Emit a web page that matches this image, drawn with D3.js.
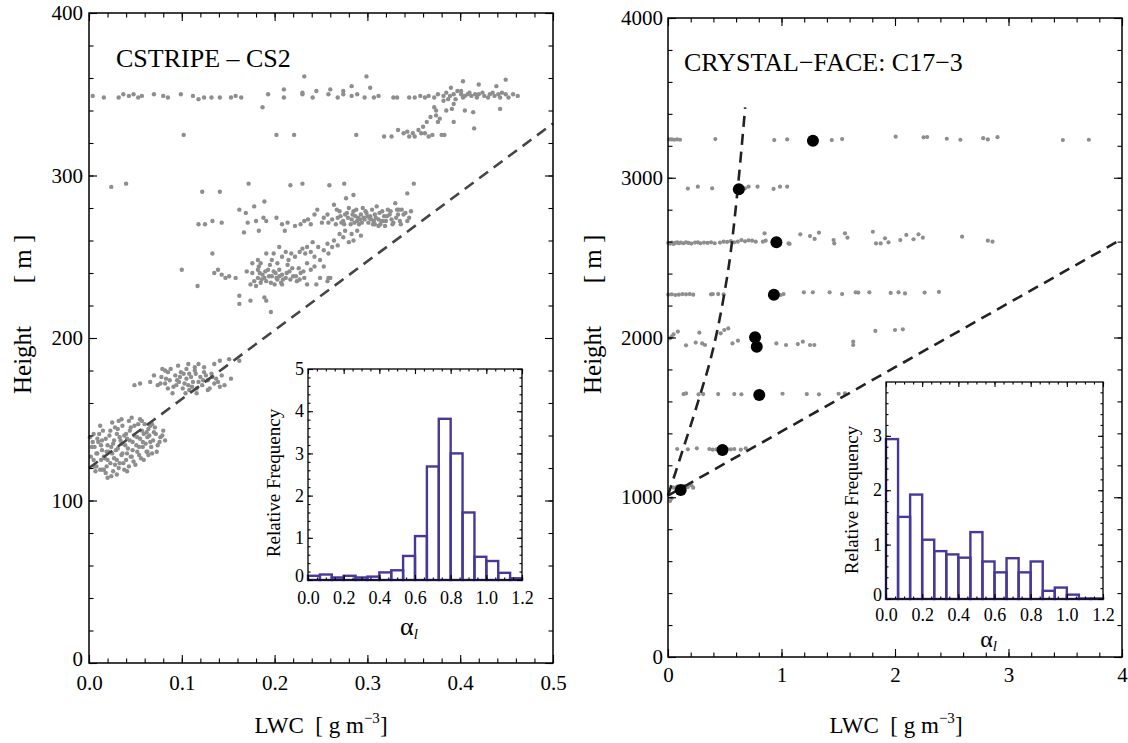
<!DOCTYPE html>
<html>
<head>
<meta charset="utf-8">
<script src="https://cdn.jsdelivr.net/npm/d3@7"></script>
<style>
  body { margin: 0; background: #fff; }
  svg text { font-family: "Liberation Serif", "Times New Roman", "DejaVu Serif", serif !important; }
</style>
</head>
<body>
<svg id="chart" width="1128" height="743"></svg>
<script>
// ---- CSTRIPE CS2 : [LWC g/m3, height m] ----
const cs2Top = [
  [0.004,349],[0.016,348],[0.032,348],[0.037,350],[0.043,349],[0.048,350],[0.053,348],[0.057,349],[0.070,350],[0.080,349],
  [0.085,348],[0.099,350],[0.112,349],[0.118,347],[0.124,348],[0.132,348],[0.141,348],[0.153,348],[0.158,349],[0.164,348],
  [0.193,350],[0.210,348],[0.230,350],[0.241,348],[0.258,350],[0.268,348],[0.274,350],[0.283,349],[0.289,350],[0.297,348],
  [0.307,348],[0.312,349],[0.328,348],[0.332,348],[0.345,348],[0.351,348],[0.357,349],[0.362,348],[0.366,349],[0.372,348],
  [0.376,350],[0.382,349],[0.385,351],[0.389,349],[0.393,350],[0.397,352],[0.401,350],[0.405,349],[0.408,350],[0.412,349],
  [0.416,350],[0.420,350],[0.426,349],[0.432,350],[0.437,349],[0.441,350],[0.445,351],[0.449,350],[0.462,349],
  [0.232,361],[0.299,361],[0.283,355],[0.303,354],[0.274,352],[0.230,351],[0.403,358],[0.420,356],[0.439,355],[0.449,359],
  [0.401,352],[0.260,353],[0.245,352],[0.210,353],[0.390,354],
  [0.395,347],[0.403,348],[0.410,351],[0.418,348],[0.424,351],[0.430,348],[0.435,351],[0.443,348],[0.452,348],[0.457,350]
];
const cs2Branch = [
  [0.333,328],[0.339,326],[0.345,324],[0.349,326],[0.355,328],[0.360,330],[0.364,333],[0.358,326],[0.372,342],[0.374,337],
  [0.374,340],[0.380,325],[0.383,325],[0.376,333],[0.391,341],[0.393,344],[0.405,340],[0.414,339],[0.393,333],[0.415,329],
  [0.443,341],[0.318,324],[0.326,324],[0.366,324],[0.370,325],[0.343,327],[0.351,324],[0.362,326],[0.368,336],[0.382,346],
  [0.387,347],[0.378,335],[0.385,340],
  [0.102,325],[0.202,325],[0.221,325],[0.288,325],[0.187,342],
  [0.024,293],[0.040,295],[0.122,290],[0.141,290],[0.172,295],[0.217,294],[0.230,295],[0.259,294],[0.275,295],[0.350,295],
  [0.343,289],[0.285,288],[0.277,286],[0.189,284],[0.178,281]
];
const cs2Upper = [
  [0.162,279],[0.169,277],[0.171,271],[0.118,270],[0.125,270],[0.133,272],[0.143,271],[0.180,272],[0.183,266],[0.188,274],
  [0.191,272],[0.202,274],[0.208,270],[0.214,271],[0.211,266],[0.222,269],[0.228,270],[0.232,272],[0.236,273],[0.239,270],
  [0.243,276],[0.246,279],[0.251,271],[0.253,274],[0.257,276],[0.258,271],[0.264,282],[0.268,274],[0.270,278],[0.274,272],
  [0.276,276],[0.280,280],[0.283,273],[0.285,278],[0.287,275],[0.289,272],[0.293,276],[0.295,280],[0.297,273],[0.299,277],
  [0.301,271],[0.303,275],[0.305,279],[0.307,272],[0.308,276],[0.310,281],[0.312,273],[0.314,270],[0.316,278],[0.318,275],
  [0.320,272],[0.322,279],[0.324,276],[0.326,273],[0.330,283],[0.332,279],[0.333,276],[0.335,272],[0.337,279],[0.339,276],
  [0.343,272],[0.328,271],[0.308,270],[0.291,270],[0.272,271],[0.266,270],[0.312,269],[0.296,274],[0.304,273],[0.286,271],
  [0.279,274],[0.317,272],[0.292,273],[0.300,275],[0.262,273],
  [0.271,275],[0.275,270],[0.278,277],[0.282,270],[0.284,276],[0.288,279],[0.290,274],[0.294,271],[0.298,278],[0.302,274],
  [0.306,270],[0.309,274],[0.313,277],[0.315,272],[0.319,269],[0.321,275],[0.325,278],[0.327,270],[0.331,274],[0.334,279],
  [0.336,270],[0.341,277],[0.345,274],[0.347,278],[0.267,279]
];
const cs2Middle = [
  [0.133,252],[0.139,242],[0.135,240],[0.117,232],[0.147,237],[0.158,237],[0.162,221],[0.162,226],[0.174,223],[0.189,225],
  [0.191,223],[0.196,216],[0.170,241],[0.176,240],[0.182,242],[0.182,248],[0.182,237],[0.187,239],[0.189,237],[0.178,235],
  [0.174,233],[0.180,232],[0.185,234],[0.191,235],[0.197,238],[0.201,240],[0.203,236],[0.207,234],[0.208,239],[0.212,237],
  [0.216,241],[0.220,238],[0.224,235],[0.228,240],[0.232,237],[0.226,243],[0.215,248],[0.218,252],[0.222,250],[0.227,253],
  [0.230,255],[0.233,252],[0.235,256],[0.239,253],[0.241,259],[0.243,250],[0.247,256],[0.249,248],[0.253,254],[0.257,258],
  [0.258,252],[0.262,256],[0.264,260],[0.268,257],[0.270,264],[0.274,262],[0.276,266],[0.280,259],[0.283,264],[0.285,260],
  [0.289,266],[0.293,263],[0.235,246],[0.239,242],[0.243,244],[0.249,237],[0.253,244],[0.257,235],[0.260,237],[0.245,233],
  [0.203,246],[0.199,252],[0.208,250],[0.212,253],[0.205,256],[0.197,248],[0.193,242],[0.185,246],[0.191,252],[0.208,233],
  [0.235,233],[0.258,237],[0.176,246],[0.100,242],[0.143,239],[0.151,238],[0.167,265],
  [0.184,240],[0.186,236],[0.190,241],[0.194,238],[0.196,234],[0.199,241],[0.202,237],[0.205,242],[0.209,236],[0.213,240],
  [0.217,236],[0.219,243],[0.223,238],[0.227,236],[0.231,241],[0.205,238],[0.195,245],[0.214,245],[0.183,244],[0.200,233]
];
const cs2Lower = [
  [0.049,171],[0.055,172],[0.066,173],[0.070,177],[0.074,171],[0.078,176],[0.082,172],[0.085,179],[0.087,174],[0.091,170],
  [0.093,177],[0.097,173],[0.099,179],[0.101,169],[0.105,175],[0.107,171],[0.108,178],[0.112,173],[0.114,180],[0.116,169],
  [0.120,176],[0.122,171],[0.124,179],[0.128,174],[0.130,169],[0.132,178],[0.135,172],[0.137,175],[0.141,170],[0.143,177],
  [0.153,175],[0.128,168],[0.095,174],[0.103,172],[0.110,176],[0.118,173],[0.102,178],[0.115,178],[0.108,168],[0.085,169],
  [0.082,180],[0.107,184],[0.114,182],[0.124,182],[0.135,184],[0.141,186],[0.151,187],[0.162,186],
  [0.079,181],[0.088,181],[0.096,183],[0.105,181],[0.118,184],[0.126,177],[0.133,176],[0.139,173],[0.146,171],[0.090,166],
  [0.104,166],[0.116,166],[0.123,174],[0.111,170],[0.098,176],[0.083,175],[0.077,172],[0.094,171]
];
const cs2Base = [
  [0.001,139],[0.003,133],[0.005,125],[0.005,141],[0.008,129],[0.008,121],[0.010,136],[0.012,119],[0.014,131],[0.015,143],
  [0.017,126],[0.018,117],[0.020,134],[0.022,140],[0.023,123],[0.025,129],[0.026,118],[0.027,137],[0.028,145],[0.030,125],
  [0.031,132],[0.032,120],[0.033,139],[0.035,128],[0.036,146],[0.037,123],[0.039,134],[0.040,141],[0.041,129],[0.043,121],
  [0.044,137],[0.045,145],[0.047,131],[0.048,124],[0.049,140],[0.051,134],[0.053,147],[0.054,128],[0.055,138],[0.057,143],
  [0.058,133],[0.060,147],[0.062,130],[0.063,139],[0.064,144],[0.066,136],[0.068,129],[0.070,142],[0.064,128],[0.068,147],
  [0.080,143],[0.082,137],[0.059,125],[0.038,119],[0.024,115],[0.007,118],[0.016,119],[0.028,122],
  [0.004,136],[0.009,138],[0.013,125],[0.019,130],[0.024,133],[0.030,141],[0.035,135],[0.041,138],[0.046,127],[0.052,130],
  [0.058,136],[0.062,142],[0.066,146],[0.072,141],[0.074,134],[0.077,139],[0.020,125],[0.014,137],[0.032,149],[0.043,149],
  [0.057,149],[0.002,127],[0.006,133],[0.009,129],[0.011,141],[0.013,134],[0.016,127],[0.018,138],[0.019,121],[0.021,130],
  [0.023,143],[0.026,135],[0.027,126],[0.029,131],[0.031,144],[0.033,123],[0.034,137],[0.036,129],[0.038,140],[0.040,125],
  [0.042,132],[0.044,143],[0.045,127],[0.047,136],[0.049,146],[0.050,122],[0.052,139],[0.054,133],[0.056,126],[0.059,141],
  [0.061,135],[0.063,130],[0.065,140],[0.067,133],[0.069,137],[0.071,145],[0.073,130],[0.076,136],[0.079,140],[0.012,146],
  [0.025,148],[0.035,150],[0.046,151],[0.055,150],[0.014,119],[0.030,116],[0.041,118],[0.006,121],[0.020,114]
];
const cs2Fit = [[0, 120], [0.5, 332]];

// ---- CRYSTAL-FACE C17-3 ----
const c17Gray = [
  [0.011,3240],[0.033,3240],[0.055,3238],[0.080,3240],[0.106,3238],[0.417,3242],[0.936,3236],[1.050,3240],[1.443,3236],[1.534,3242],
  [2.006,3257],[2.252,3253],[2.283,3255],[2.456,3244],[2.576,3238],[2.777,3248],[2.818,3240],[2.903,3254],[3.479,3236],[3.708,3238],
  [0.175,2932],[0.263,2944],[0.389,2934],[0.679,2934],[0.710,2944],[0.789,2944],[0.930,2930],[0.987,2944],[1.050,2944],
  [0.002,2592],[0.018,2588],[0.033,2594],[0.049,2586],[0.065,2592],[0.081,2596],[0.096,2590],[0.112,2594],[0.137,2590],[0.159,2596],
  [0.181,2592],[0.206,2588],[0.238,2594],[0.263,2596],[0.285,2590],[0.317,2594],[0.348,2592],[0.379,2596],[0.411,2590],[0.458,2594],
  [0.490,2600],[0.521,2598],[0.553,2604],[0.583,2596],[0.615,2600],[0.647,2610],[0.679,2602],[0.710,2608],[0.741,2606],[0.773,2600],
  [0.836,2600],[0.861,2606],[1.071,2586],
  [0.851,2652],[1.166,2646],[1.251,2635],[1.330,2656],[1.292,2617],[1.459,2610],[1.465,2589],[1.559,2652],[1.581,2625],[1.805,2662],
  [1.833,2589],[1.874,2589],[1.912,2621],[1.943,2596],[2.047,2610],[2.100,2642],[2.163,2615],[2.207,2646],[2.245,2625],[2.591,2631],
  [2.818,2606],[2.859,2600],[1.062,2589],
  [0.002,2268],[0.033,2270],[0.065,2266],[0.096,2268],[0.128,2272],[0.159,2270],[0.191,2272],[0.222,2268],[0.379,2270],[0.395,2272],
  [0.442,2272],[0.490,2270],[0.993,2266],[1.018,2272],[1.197,2283],[1.276,2283],[1.424,2283],[1.534,2272],[1.654,2283],[1.676,2281],
  [1.774,2283],[1.962,2279],[2.031,2283],[2.088,2276],[2.261,2281],[2.387,2285],
  [0.049,2020],[0.087,2037],[0.159,1951],[0.244,1968],[0.276,2030],[0.301,1963],[0.326,1953],[0.464,2026],[0.496,2047],[0.531,2057],
  [0.568,1963],[0.616,1980],[0.955,1963],[1.040,1953],[1.144,1959],[1.188,1974],[1.251,1953],[1.289,1953],[1.632,1974],[1.632,1953],
  [1.827,2041],[2.000,2047],[2.069,2051],[0.033,2005],[0.018,1995],
  [0.137,1646],[0.159,1650],[0.269,1644],[0.310,1646],[0.442,1646],[0.584,1646],[0.647,1644],[1.009,1648],[1.223,1646],[1.330,1644],
  [1.503,1648],[1.559,1650],
  [0.081,1302],[0.175,1300],[0.254,1306],[0.364,1302],[0.395,1298],[0.427,1300],[0.458,1302],[0.490,1298],[0.521,1302],[0.553,1300],
  [0.584,1302],[0.641,1298],[0.685,1306],
  [0.049,1060],[0.081,1066],[0.144,1070],[0.175,1064],[0.206,1075],[0.222,1060],
  [0.018,976],[0.033,993]
];
const c17Mean = [
  [1.277,3232],[0.624,2928],[0.955,2596],[0.933,2268],[0.767,2001],[0.782,1942],[0.804,1640],[0.480,1296],[0.112,1045]
];
const c17Line = [[0, 1010], [4, 2617]];
const c17Curve = [
  [0,1010],[0.10,1230],[0.20,1450],[0.30,1680],[0.37,1850],[0.43,2030],[0.49,2250],[0.55,2520],[0.61,2900],[0.68,3440]
];

// ---- alpha_l histograms (bin width 1/15) ----
const alphaBinWidth = 1 / 15;
const cs2Alpha = [0.10,0.13,0.06,0.10,0.06,0.08,0.18,0.23,0.57,1.04,2.69,3.82,3.00,1.60,0.55,0.45,0.17,0.04];
const c17Alpha = [2.94,1.51,1.92,1.09,0.88,0.82,0.76,1.23,0.69,0.49,0.75,0.49,0.69,0.15,0.21,0.08,0.01,0.01];

// ---- ticks ----
const cs2XTicks = [0, 0.1, 0.2, 0.3, 0.4, 0.5];
const cs2YTicks = [0, 100, 200, 300, 400];
const c17XTicks = [0, 1, 2, 3, 4];
const c17YTicks = [0, 1000, 2000, 3000, 4000];
const alphaTicks = [0, 0.2, 0.4, 0.6, 0.8, 1.0, 1.2];
const cs2FreqTicks = [0, 1, 2, 3, 4, 5];
const c17FreqTicks = [0, 1, 2, 3];

const FONT = '"Liberation Serif", "Times New Roman", "DejaVu Serif", serif';
const PURPLE = "#46399a";

let svg = d3.select("#chart");
svg.append("rect").attr("width", 1128).attr("height", 743).attr("fill", "#fff");

function addTicks(g, axis, transform, values, len, fmt, pad, fontSize) {
  axis.tickValues(values).tickSizeInner(-len).tickSizeOuter(0).tickPadding(pad || 0)
    .tickFormat(fmt || (() => ""));
  let a = g.append("g").attr("transform", transform).call(axis)
    .attr("font-family", FONT).attr("font-size", fontSize || 10);
  a.select(".domain").remove();
  a.selectAll(".tick line").attr("stroke", "#000").attr("stroke-width", 1.1);
  a.selectAll(".tick text").attr("fill", "#000");
  return a;
}

function drawFrame(g, x, y, s) {
  let [xl, xr] = x.range(), [yb, yt] = y.range();
  addTicks(g, d3.axisBottom(x), `translate(0,${yb})`, s.xMinor, s.minor);
  addTicks(g, d3.axisBottom(x), `translate(0,${yb})`, s.xMajor, s.major, s.xFmt, s.xPad, s.fontSize);
  addTicks(g, d3.axisTop(x), `translate(0,${yt})`, s.xMinor, s.minor);
  addTicks(g, d3.axisTop(x), `translate(0,${yt})`, s.xMajor, s.major);
  addTicks(g, d3.axisLeft(y), `translate(${xl},0)`, s.yMinor, s.minor);
  let ya = addTicks(g, d3.axisLeft(y), `translate(${xl},0)`, s.yMajor, s.major, s.yFmt, s.yPad, s.fontSize);
  // lift the corner "0" a little so it clears the first x label
  ya.selectAll(".tick text").filter(d => d === 0).attr("dy", s.zeroDy);
  addTicks(g, d3.axisRight(y), `translate(${xr},0)`, s.yMinor, s.minor);
  addTicks(g, d3.axisRight(y), `translate(${xr},0)`, s.yMajor, s.major);
  g.append("rect").attr("x", xl).attr("y", yt).attr("width", xr - xl).attr("height", yb - yt)
    .attr("fill", "none").attr("stroke", "#000").attr("stroke-width", s.frame);
}

function drawDots(g, x, y, pts, r, color) {
  g.selectAll(null).data(pts).enter().append("circle")
    .attr("cx", d => x(d[0])).attr("cy", d => y(d[1]))
    .attr("r", r).attr("fill", color);
}

function drawDashed(g, x, y, pts, color, curve) {
  let line = d3.line().x(d => x(d[0])).y(d => y(d[1]));
  if (curve) line.curve(curve);
  g.append("path").attr("d", line(pts)).attr("fill", "none")
    .attr("stroke", color).attr("stroke-width", 2.6).attr("stroke-dasharray", "11,7");
}

function drawInset(g, box, freq, yMax, yTicks) {
  let x = d3.scaleLinear().domain([0, 1.2]).range([box.x0, box.x1]);
  let y = d3.scaleLinear().domain([0, yMax]).range([box.y1, box.y0]);
  g.append("rect").attr("x", box.x0).attr("y", box.y0)
    .attr("width", box.x1 - box.x0).attr("height", box.y1 - box.y0).attr("fill", "#fff");
  g.selectAll(null).data(freq).enter().append("rect")
    .attr("x", (d, i) => x(i * alphaBinWidth))
    .attr("width", (d, i) => x((i + 1) * alphaBinWidth) - x(i * alphaBinWidth))
    .attr("y", d => y(d))
    .attr("height", d => y(0) - y(d))
    .attr("fill", "none").attr("stroke", PURPLE).attr("stroke-width", 2.4);
  drawFrame(g, x, y, {
    xMajor: alphaTicks, xMinor: d3.range(0, 1.2001, 0.05),
    yMajor: yTicks, yMinor: d3.range(0, yMax + 0.001, 0.2),
    xFmt: d3.format(".1f"), yFmt: d3.format("d"),
    major: 5, minor: 2.5, fontSize: 18, xPad: box.xPad, yPad: 4, frame: 1.3, zeroDy: "0.06em"
  });
  g.append("text")
    .attr("transform", `translate(${box.x0 - 28},${box.labelY}) rotate(-90)`)
    .attr("text-anchor", "middle").attr("font-family", FONT).attr("font-size", 19)
    .text("Relative Frequency");
  let t = g.append("text").attr("x", (box.x0 + box.x1) / 2 - 6).attr("y", box.alphaY)
    .attr("font-family", FONT).attr("font-size", box.alphaSize).attr("text-anchor", "middle");
  t.append("tspan").text("α");
  t.append("tspan").attr("font-size", 15).attr("font-style", "italic").attr("dy", 4).text("l");
}

function axisTitles(g, cx, hx) {
  let lw = g.append("text").attr("x", cx).attr("y", 733).attr("text-anchor", "middle")
    .attr("font-family", FONT).attr("font-size", 23).style("white-space", "pre");
  lw.append("tspan").text("LWC  [ g m");
  lw.append("tspan").attr("font-size", 15).attr("dy", -10).text("\u22123");
  lw.append("tspan").attr("dy", 10).text("]");
  g.append("text").attr("transform", `translate(${hx},360) rotate(-90)`)
    .attr("text-anchor", "middle").attr("font-family", FONT).attr("font-size", 25).text("Height");
  g.append("text").attr("transform", `translate(${hx},259) rotate(-90)`)
    .attr("text-anchor", "middle").attr("font-family", FONT).attr("font-size", 25)
    .style("white-space", "pre").text("[ m ]");
}

// ---------- left panel ----------
let xL = d3.scaleLinear().domain([0, 0.5]).range([89, 553]);
let yL = d3.scaleLinear().domain([0, 400]).range([663, 13]);
let gL = svg.append("g");
[cs2Top, cs2Branch, cs2Upper, cs2Middle, cs2Lower, cs2Base].forEach(arr =>
  drawDots(gL, xL, yL, arr, 2.2, "#8e8e8e"));
drawDashed(gL, xL, yL, cs2Fit, "#454545");
drawFrame(gL, xL, yL, {
  xMajor: cs2XTicks, xMinor: d3.range(0, 0.5001, 0.02),
  yMajor: cs2YTicks, yMinor: d3.range(0, 400.1, 20),
  xFmt: d3.format(".1f"), yFmt: d3.format("d"),
  major: 8, minor: 4.5, fontSize: 21, xPad: 12, yPad: 6, frame: 1.5, zeroDy: "0.12em"
});
gL.append("text").attr("x", 116).attr("y", 67).attr("font-family", FONT).attr("font-size", 26)
  .text("CSTRIPE \u2013 CS2");
axisTitles(gL, 321, 31);
drawInset(gL, {x0: 308, x1: 522, y0: 369, y1: 580, xPad: 11, labelY: 483, alphaY: 635, alphaSize: 26},
  cs2Alpha, 5, cs2FreqTicks);

// ---------- right panel ----------
let xR = d3.scaleLinear().domain([0, 4]).range([668, 1122]);
let yR = d3.scaleLinear().domain([0, 4000]).range([657, 18]);
let gR = svg.append("g");
drawDots(gR, xR, yR, c17Gray, 2.1, "#8e8e8e");
drawDashed(gR, xR, yR, c17Line, "#222");
drawDashed(gR, xR, yR, c17Curve, "#222", d3.curveMonotoneX);
drawDots(gR, xR, yR, c17Mean, 6, "#000");
drawFrame(gR, xR, yR, {
  xMajor: c17XTicks, xMinor: d3.range(0, 4.001, 0.2),
  yMajor: c17YTicks, yMinor: d3.range(0, 4001, 200),
  xFmt: d3.format("d"), yFmt: d3.format("d"),
  major: 8, minor: 4.5, fontSize: 21, xPad: 10, yPad: 5, frame: 1.5, zeroDy: "0.32em"
});
gR.append("text").attr("x", 684).attr("y", 71).attr("font-family", FONT).attr("font-size", 26)
  .text("CRYSTAL\u2212FACE: C17\u22123");
axisTitles(gR, 896, 601);
drawInset(gR, {x0: 886, x1: 1103, y0: 382, y1: 599, xPad: 9, labelY: 500, alphaY: 647, alphaSize: 24},
  c17Alpha, 3.99, c17FreqTicks);
</script>
</body>
</html>
